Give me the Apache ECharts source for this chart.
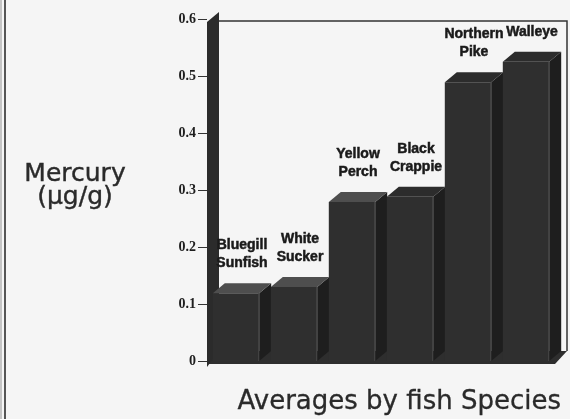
<!DOCTYPE html>
<html><head><meta charset="utf-8">
<script src="https://cdn.jsdelivr.net/npm/echarts@6/dist/echarts.min.js"></script>
<style>html,body{margin:0;padding:0;background:#f5f5f5}#c{width:570px;height:419px}</style>
</head><body><div id="c"></div>
<script>
// ---- data ----
const categories = ['Bluegill Sunfish', 'White Sucker', 'Yellow Perch', 'Black Crappie', 'Northern Pike', 'Walleye'];
const barLabels = ['Bluegill\nSunfish', 'White\nSucker', 'Yellow\nPerch', 'Black\nCrappie', 'Northern\nPike', 'Walleye'];
const mercury = [0.119, 0.130, 0.279, 0.288, 0.489, 0.525];
const yTickLabels = ['0', '0.1', '0.2', '0.3', '0.4', '0.5', '0.6'];
const titleText = 'Averages by fish Species';
const yName = 'Mercury\n(µg/g)';

// ---- 3D depth offsets ----
const DX = 12, DY = -10;

const chart = echarts.init(document.getElementById('c'), null, {renderer: 'canvas'});

const option = {
  backgroundColor: '#f5f5f5',
  animation: false,
  grid: {left: 207, right: 15, top: 19, bottom: 58, containLabel: false},
  xAxis: {type: 'category', data: categories, show: false},
  yAxis: {
    type: 'value', min: 0, max: 0.6, interval: 0.1,
    splitLine: {show: false},
    axisLine: {show: false},
    axisTick: {show: true, length: 9, lineStyle: {color: '#333', width: 1}},
    axisLabel: {
      margin: 11, color: '#1e1e1e', fontFamily: 'Liberation Serif', fontWeight: 'bold', fontSize: 14,
      formatter: v => yTickLabels[Math.round(v * 10)]
    }
  },
  graphic: [
    {type: 'rect', shape: {x: 0, y: 0, width: 2, height: 419}, style: {fill: '#c4c4c4'}},
    {type: 'rect', shape: {x: 4, y: 0, width: 2, height: 419}, style: {fill: '#555'}},
    {type: 'text', x: 75, y: 186, style: {text: yName, align: 'center', verticalAlign: 'middle',
      fontFamily: 'DejaVu Sans', fontSize: 25, lineHeight: 23, fill: '#2a2a2a', stroke: '#2a2a2a', lineWidth: 0.4}},
    {type: 'text', x: 561, y: 402, style: {text: titleText, align: 'right', verticalAlign: 'middle',
      fontFamily: 'DejaVu Sans', fontSize: 26, fill: '#2a2a2a', stroke: '#2a2a2a', lineWidth: 0.3}}
  ],
  series: [
    {
      // walls and floor of the 3D box
      type: 'custom', z: 1, clip: false, silent: true,
      data: [[0, 0]],
      renderItem: function (params, api) {
        const cs = params.coordSys;
        const xL = cs.x, xR = cs.x + cs.width, yT = cs.y, y0 = cs.y + cs.height;
        return {type: 'group', children: [
          {type: 'polyline', shape: {points: [[xL + DX, yT + 2], [xR + DX, yT + 2], [xR + DX, y0 + DY]]},
            style: {stroke: '#333', lineWidth: 1.5, fill: null}},
          {type: 'polygon', shape: {points: [[xL, y0 + 3], [xR, y0 + 3], [xR + DX, y0 + DY], [xL + DX, y0 + DY]]},
            style: {fill: '#2e2e2e'}},
          {type: 'polygon', shape: {points: [[xL, yT + 3], [xL + DX, yT + 3 + DY], [xL + DX, y0 + DY], [xL, y0 + 6]]},
            style: {fill: '#2b2b2b'}}
        ]};
      }
    },
    {
      type: 'custom', z: 2, clip: false, silent: true,
      data: mercury.map((v, i) => [i, v]),
      encode: {x: 0, y: 1},
      renderItem: function (params, api) {
        const i = params.dataIndex;
        const v = api.value(1);
        const c0 = api.coord([api.value(0), 0]);
        const c1 = api.coord([api.value(0), v]);
        const bw = api.size([1, 0])[0] * 0.8;
        const xa = c0[0] - bw / 2, xb = c0[0] + bw / 2, yb = c0[1], yt = c1[1];
        return {type: 'group', children: [
          {type: 'text', style: {text: barLabels[i], x: c0[0] + DX / 2, y: yt + DY - 11,
            align: 'center', verticalAlign: 'bottom', fontFamily: 'Liberation Sans', fontWeight: 'bold',
            fontSize: 14, lineHeight: 18, fill: '#1a1a1a', stroke: '#1a1a1a', lineWidth: 0.5}},
          {type: 'polygon', shape: {points: [[xb, yt], [xb + DX, yt + DY], [xb + DX, yb + DY], [xb, yb]]},
            style: {fill: '#1e1e1e'}},
          {type: 'rect', shape: {x: xa, y: yt, width: bw, height: yb - yt}, style: {fill: '#2f2f2f'}},
          {type: 'polygon', shape: {points: [[xa, yt], [xa + DX, yt + DY], [xb + DX, yt + DY], [xb, yt]]},
            style: {fill: i < 3 ? '#4e4e4e' : '#2c2c2c'}},
          {type: 'line', shape: {x1: xb - 0.5, y1: yt, x2: xb - 0.5, y2: yb}, style: {stroke: '#484848', lineWidth: 1}}
        ]};
      }
    }
  ]
};
chart.setOption(option);
</script>
</body></html>
